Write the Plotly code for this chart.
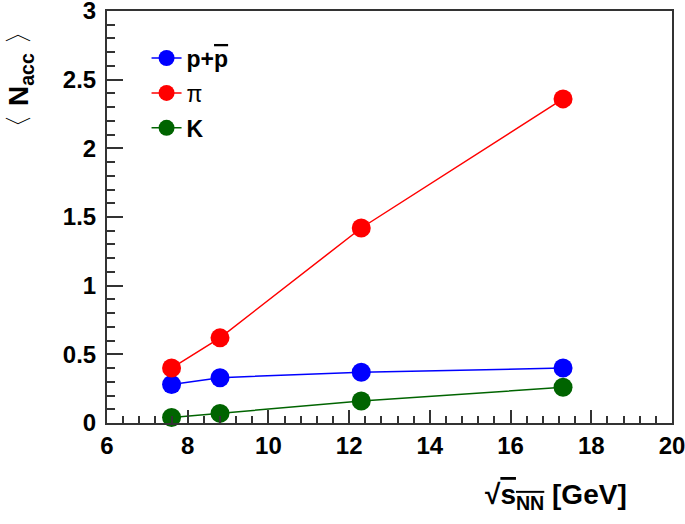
import plotly.graph_objects as go

energies = [7.6, 8.8, 12.3, 17.3]
n_proton = [0.28, 0.33, 0.37, 0.40]
n_pion = [0.40, 0.62, 1.42, 2.36]
n_kaon = [0.04, 0.07, 0.16, 0.26]

x_ticks = [6, 8, 10, 12, 14, 16, 18, 20]
x_ticktext = ["6", "8", "10", "12", "14", "16", "18", "20"]
y_ticks = [0, 0.5, 1, 1.5, 2, 2.5, 3]
y_ticktext = ["0", "0.5", "1", "1.5", "2", "2.5", "3"]

series = [
    ("<b>p+<span style='text-decoration:overline'>p</span></b>", n_proton, "#0000ff"),
    ("π", n_pion, "#ff0000"),
    ("<b>K</b>", n_kaon, "#006400"),
]

FONT = "Liberation Sans, Arial, sans-serif"

fig = go.Figure()
for i, (name, vals, col) in enumerate(series):
    fig.add_trace(go.Scatter(
        x=energies, y=vals, name=name, mode="lines+markers",
        line=dict(color=col, width=1.5),
        marker=dict(color=col, size=19),
        legendgroup=str(i), cliponaxis=False,
    ))

axis_common = dict(
    showline=True, linecolor="#333333", linewidth=2, mirror=True,
    ticks="inside", showgrid=False, zeroline=False, automargin=False,
    tickfont=dict(family=FONT, size=24, color="black", weight="bold"),
    tickcolor="#333333", tickwidth=1.5, tickmode="array",
    ticklabeloverflow="allow",
)

fig.update_layout(
    width=685, height=524,
    margin=dict(l=107, r=13, t=11, b=101),
    paper_bgcolor="white", plot_bgcolor="white",
    font=dict(family=FONT, color="black"),
    xaxis=dict(range=[6, 20], tickvals=x_ticks, ticktext=x_ticktext, ticklen=13,
               minor=dict(ticks="inside", tickmode="linear", tick0=6, dtick=0.4, ticklen=7,
                          tickcolor="#333333", tickwidth=1.5),
               **axis_common),
    yaxis=dict(range=[0, 3], tickvals=y_ticks, ticktext=y_ticktext, ticklen=16,
               ticklabelstandoff=4,
               minor=dict(ticks="inside", tickmode="linear", tick0=0, dtick=0.1, ticklen=8,
                          tickcolor="#333333", tickwidth=1.5),
               **axis_common),
    legend=dict(x=0.07, y=0.938, xanchor="left", yanchor="top",
                font=dict(family=FONT, size=23, color="black"),
                bgcolor="rgba(0,0,0,0)", tracegroupgap=2, itemwidth=30),
    showlegend=True,
)

fig.add_annotation(
    text="〈 <b>N<sub>acc</sub></b> 〉", textangle=-90,
    xref="paper", yref="paper", x=0, xshift=-86, y=0.833, xanchor="center", yanchor="middle",
    showarrow=False, font=dict(family=FONT, size=28, color="black"),
)
fig.add_annotation(
    text="<b>√<span style='text-decoration:overline'>s<sub>NN</sub></span> [GeV]</b>",
    xref="paper", yref="paper", x=0.924, y=-0.13, xanchor="right", yanchor="top",
    showarrow=False, font=dict(family=FONT, size=28, color="black"),
)

fig.write_html("out.html", config={"displayModeBar": False},
               post_script="document.body.style.margin='0';")
